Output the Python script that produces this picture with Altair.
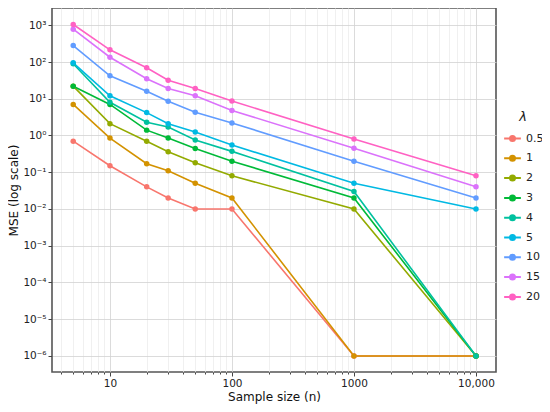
import altair as alt
import pandas as pd

sample_sizes = [5, 10, 20, 30, 50, 100, 1000, 10000]
lambdas = ["0.5", "1", "2", "3", "4", "5", "10", "15", "20"]
colors = ["#F8766D", "#D39200", "#93AA00", "#00BA38", "#00C19F",
          "#00B9E3", "#619CFF", "#DB72FB", "#FF61C3"]

mse_05 = [0.7, 0.15, 0.04, 0.02, 0.01, 0.01, 1e-6, 1e-6]
mse_1 = [7, 0.85, 0.17, 0.11, 0.05, 0.02, 1e-6, 1e-6]
mse_2 = [22, 2.1, 0.7, 0.36, 0.18, 0.08, 0.01, 1e-6]
mse_3 = [22, 7, 1.4, 0.85, 0.44, 0.2, 0.02, 1e-6]
mse_4 = [90, 8, 2.3, 1.7, 0.75, 0.37, 0.03, 1e-6]
mse_5 = [95, 12, 4.2, 2.1, 1.25, 0.55, 0.05, 0.01]
mse_10 = [280, 42, 16, 8.5, 4.3, 2.2, 0.2, 0.02]
mse_15 = [780, 135, 35, 19, 12, 4.8, 0.45, 0.04]
mse_20 = [1050, 215, 70, 32, 19, 8.7, 0.8, 0.08]
series = [mse_05, mse_1, mse_2, mse_3, mse_4, mse_5, mse_10, mse_15, mse_20]

x_major = [10, 100, 1000, 10000]
x_major_labels = ["10", "100", "1000", "10,000"]
x_minor = [4, 5, 6, 7, 8, 9, 20, 30, 40, 50, 60, 70, 80, 90,
           200, 300, 400, 500, 600, 700, 800, 900,
           2000, 3000, 4000, 5000, 6000, 7000, 8000, 9000]
y_major = [1e-6, 1e-5, 1e-4, 1e-3, 1e-2, 1e-1, 1, 10, 100, 1000]
y_labels = ["10⁻⁶", "10⁻⁵", "10⁻⁴", "10⁻³", "10⁻²", "10⁻¹", "10⁰", "10¹", "10²", "10³"]

rows = []
for i, (lam, vals) in enumerate(zip(lambdas, series)):
    for n, v in zip(sample_sizes, vals):
        rows.append({"lam": lam, "order": i, "n": n, "mse": v})
df = pd.DataFrame(rows)

FONT = "DejaVu Sans"

x_label_expr = " : ".join(
    f"datum.value == {v} ? '{l}'" for v, l in zip(x_major, x_major_labels)
) + " : ''"
major_test = "indexof(" + str(x_major) + ", datum.value) >= 0"
y_label_expr = "[" + ",".join(f"'{l}'" for l in y_labels) + "][round(log(datum.value)/LN10) + 6]"

x_enc = alt.X(
    "n:Q",
    scale=alt.Scale(type="log", domain=[3.35, 14590], nice=False, zero=False),
    axis=alt.Axis(
        title="Sample size (n)",
        values=sorted(x_major + x_minor),
        labelExpr=x_label_expr,
        labelOverlap=False,
        labelFlush=False,
        labelPadding=2,
        gridColor={"condition": {"test": major_test, "value": "#d2d2d2"}, "value": "#ececec"},
        tickSize={"condition": {"test": major_test, "value": 4}, "value": 2},
        tickColor="#444444",
        domain=False,
        titlePadding=3,
    ),
)
y_enc = alt.Y(
    "mse:Q",
    scale=alt.Scale(type="log", domain=[3.66e-7, 2.95e3], nice=False, zero=False),
    axis=alt.Axis(
        title="MSE (log scale)",
        values=y_major,
        labelExpr=y_label_expr,
        labelOverlap=False,
        gridColor="#d2d2d2",
        tickSize=4,
        tickColor="#444444",
        domain=False,
        titlePadding=2,
    ),
)
color_enc = alt.Color(
    "lam:N",
    scale=alt.Scale(domain=lambdas, range=colors),
    legend=alt.Legend(
        title="λ",
        orient="none",
        legendX=451,
        legendY=103,
        titleFontStyle="italic",
        titleFontWeight="normal",
        titleFontSize=13,
        titleAlign="center",
        titleAnchor="middle",
        labelFontSize=11,
        symbolType="M-1,0L1,0M-0.3,0a0.3,0.3 0 1,0 0.6,0a0.3,0.3 0 1,0 -0.6,0",
        symbolSize=280,
        symbolStrokeWidth=2,
        rowPadding=2.8,
    ),
)

base = alt.Chart(df)
lines = base.mark_line(strokeWidth=1.6).encode(
    x=x_enc, y=y_enc, color=color_enc, order="n:Q",
    detail="order:O",
)
points = base.mark_point(filled=True, size=30, opacity=1).encode(
    x=x_enc, y=y_enc, color=alt.Color("lam:N", scale=alt.Scale(domain=lambdas, range=colors), legend=None),
)

chart = alt.layer(lines, points).properties(
    width=444,
    height=364,
    autosize=alt.AutoSizeParams(type="none"),
    padding={"left": 44, "top": 0, "right": 46, "bottom": 32},
).configure(
    font=FONT,
).configure_axis(
    labelFontSize=10.5,
    titleFontSize=12,
    titleFontWeight="normal",
    labelColor="#222222",
    titleColor="#111111",
    gridWidth=0.8,
).configure_view(
    stroke="#555555",
    strokeWidth=1.6,
).configure_legend(
    labelColor="#222222",
    titleColor="#222222",
)

chart.save("out.html", embed_options={"renderer": "svg", "actions": False})
